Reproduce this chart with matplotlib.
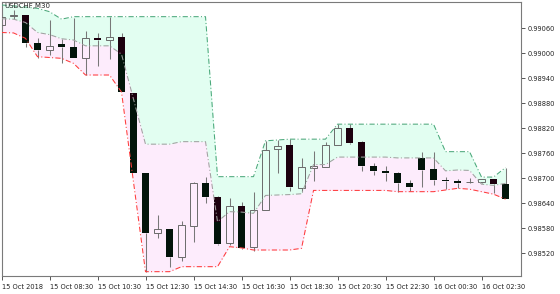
import numpy as np
import matplotlib.pyplot as plt
from matplotlib.patches import Rectangle

# USDCHF M30 candles, 15 Oct 06:30 -> 16 Oct 03:30
opens = [0.99068, 0.99090, 0.99092, 0.99026, 0.99007, 0.99022, 0.99015, 0.98990, 0.99036, 0.99031,
         0.99040, 0.98904, 0.98712, 0.98570, 0.98578, 0.98512, 0.98586, 0.98690, 0.98656, 0.98544,
         0.98634, 0.98536, 0.98624, 0.98770, 0.98779, 0.98678, 0.98726, 0.98728, 0.98780, 0.98822,
         0.98788, 0.98730, 0.98718, 0.98714, 0.98688, 0.98748, 0.98722, 0.98697, 0.98694, 0.98691,
         0.98691, 0.98698, 0.98686]
highs = [0.99094, 0.99104, 0.99093, 0.99038, 0.99080, 0.99034, 0.99084, 0.99054, 0.99048, 0.99088,
         0.99050, 0.98906, 0.98713, 0.98612, 0.98579, 0.98598, 0.98691, 0.98704, 0.98658, 0.98653,
         0.98644, 0.98668, 0.98790, 0.98792, 0.98794, 0.98748, 0.98766, 0.98788, 0.98830, 0.98830,
         0.98790, 0.98738, 0.98730, 0.98715, 0.98696, 0.98764, 0.98764, 0.98704, 0.98698, 0.98702,
         0.98698, 0.98698, 0.98726]
lows = [0.99063, 0.99082, 0.99016, 0.98990, 0.98996, 0.98976, 0.98988, 0.98948, 0.98970, 0.98986,
        0.98907, 0.98712, 0.98476, 0.98558, 0.98487, 0.98502, 0.98548, 0.98642, 0.98539, 0.98539,
        0.98530, 0.98526, 0.98623, 0.98713, 0.98670, 0.98668, 0.98694, 0.98727, 0.98779, 0.98782,
        0.98718, 0.98708, 0.98694, 0.98668, 0.98670, 0.98680, 0.98684, 0.98674, 0.98676, 0.98690,
        0.98690, 0.98666, 0.98650]
closes = [0.99087, 0.99091, 0.99024, 0.99008, 0.99017, 0.99015, 0.98989, 0.99036, 0.99031, 0.99040,
          0.98908, 0.98712, 0.98570, 0.98578, 0.98512, 0.98588, 0.98690, 0.98656, 0.98542, 0.98634,
          0.98532, 0.98624, 0.98768, 0.98778, 0.98679, 0.98728, 0.98729, 0.98780, 0.98820, 0.98784,
          0.98730, 0.98718, 0.98713, 0.98688, 0.98680, 0.98720, 0.98696, 0.98693, 0.98690, 0.98692,
          0.98698, 0.98686, 0.98650]

# channel lines
upper = [0.99116, 0.99114, 0.99111, 0.99108, 0.99100, 0.99082, 0.99088, 0.99088, 0.99088, 0.99088,
         0.99088, 0.99088, 0.99088, 0.99088, 0.99088, 0.99088, 0.99088, 0.99088, 0.98704, 0.98704,
         0.98704, 0.98704, 0.98790, 0.98792, 0.98794, 0.98794, 0.98794, 0.98794, 0.98830, 0.98830,
         0.98830, 0.98830, 0.98830, 0.98830, 0.98830, 0.98830, 0.98830, 0.98764, 0.98764, 0.98764,
         0.98703, 0.98703, 0.98726]
middle = [0.99083, 0.99082, 0.99074, 0.99050, 0.99045, 0.99035, 0.99032, 0.99018, 0.99018, 0.99018,
          0.98998, 0.98890, 0.98782, 0.98782, 0.98782, 0.98788, 0.98788, 0.98788, 0.98596, 0.98620,
          0.98619, 0.98616, 0.98659, 0.98660, 0.98661, 0.98663, 0.98733, 0.98733, 0.98751, 0.98751,
          0.98751, 0.98751, 0.98751, 0.98749, 0.98749, 0.98749, 0.98749, 0.98718, 0.98720, 0.98719,
          0.98686, 0.98683, 0.98688]
lower = [0.99050, 0.99049, 0.99036, 0.98992, 0.98990, 0.98988, 0.98976, 0.98948, 0.98948, 0.98948,
         0.98907, 0.98691, 0.98476, 0.98476, 0.98476, 0.98488, 0.98488, 0.98488, 0.98488, 0.98536,
         0.98533, 0.98528, 0.98528, 0.98528, 0.98528, 0.98532, 0.98671, 0.98671, 0.98671, 0.98671,
         0.98671, 0.98671, 0.98671, 0.98668, 0.98668, 0.98668, 0.98668, 0.98672, 0.98676, 0.98674,
         0.98668, 0.98662, 0.98650]

time_labels = ['15 Oct 2018', '15 Oct 08:30', '15 Oct 10:30', '15 Oct 12:30', '15 Oct 14:30',
               '15 Oct 16:30', '15 Oct 18:30', '15 Oct 20:30', '15 Oct 22:30', '16 Oct 00:30',
               '16 Oct 02:30']
price_ticks = [0.99060, 0.99000, 0.98940, 0.98880, 0.98820, 0.98760, 0.98700, 0.98640, 0.98580, 0.98520]

x = np.arange(len(opens))

fig = plt.figure(figsize=(5.6, 2.94), dpi=100)
ax = fig.add_axes([1.5 / 560, 18 / 294, 519.5 / 560, 274 / 294])

# channel fills first, candles over them, lines on top
ax.fill_between(x, middle, upper, color='#e2fef1', lw=0, zorder=1)
ax.fill_between(x, lower, middle, color='#fdecfc', lw=0, zorder=1)

w = 0.58
wick_col = '#787878'
for i in x:
    o, h, l, c = opens[i], highs[i], lows[i], closes[i]
    top, bot = max(o, c), min(o, c)
    ax.plot([i, i], [top, h], color=wick_col, lw=0.75, zorder=2, solid_capstyle='butt')
    ax.plot([i, i], [l, bot], color=wick_col, lw=0.75, zorder=2, solid_capstyle='butt')
    if c >= o:
        ax.add_patch(Rectangle((i - w / 2, bot), w, top - bot, facecolor='none',
                               edgecolor='#6a6a6a', lw=0.7, zorder=3))
    else:
        # dark body looks maroon inside the green band, dark green inside the pink one
        m = min(max(middle[i], bot), top)
        if top > m:
            ax.add_patch(Rectangle((i - w / 2, m), w, top - m, facecolor='#1c000e', lw=0, zorder=3))
        if m > bot:
            ax.add_patch(Rectangle((i - w / 2, bot), w, m - bot, facecolor='#02140a', lw=0, zorder=3))

dashdot = (0, (5, 2.2, 1, 2.2))
ax.plot(x, upper, color='#4aa87a', lw=0.75, ls=dashdot, zorder=4)
ax.plot(x, middle, color='#a0a0a0', lw=0.75, ls=dashdot, zorder=4)
ax.plot(x, lower, color='#ff3b3b', lw=0.75, ls=dashdot, zorder=4)

ax.set_xlim(0, 43.29)
ax.set_ylim(0.984656, 0.991232)

ax.set_xticks(x[::4])
ax.set_xticklabels(time_labels, ha='left')
ax.yaxis.tick_right()
ax.set_yticks(price_ticks)
ax.set_yticklabels(['%.5f' % p for p in price_ticks])
ax.tick_params(axis='both', direction='out', length=3, width=0.7, color='#555555',
               labelsize=4.8, labelcolor='#222222')
ax.tick_params(axis='x', pad=2.5)
ax.tick_params(axis='y', pad=1.5)

for s in ax.spines.values():
    s.set_color('#7a7a7a')
    s.set_linewidth(0.8)

ax.text(0.006, 0.995, 'USDCHF,M30', transform=ax.transAxes, ha='left', va='top',
        fontsize=5, color='#222222', zorder=5)

fig.savefig('out.png', dpi=100)
